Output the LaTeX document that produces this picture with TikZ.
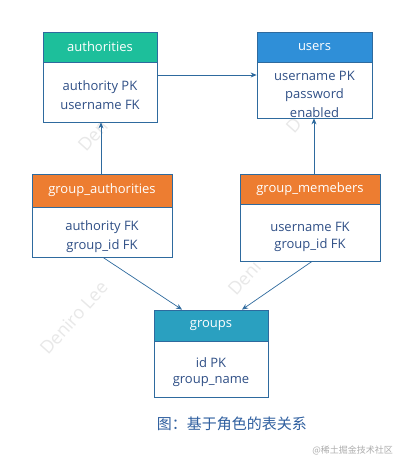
\documentclass[tikz,border=0pt]{standalone}
\usepackage{fontspec}
\setmainfont{Open Sans}
\newfontfamily\cjk{Noto Sans CJK SC}
\usetikzlibrary{arrows.meta}
\definecolor{lineblue}{HTML}{2E6A9E}
\definecolor{txtblue}{HTML}{2F4F86}
\definecolor{hgreen}{HTML}{1DBF9B}
\definecolor{hblue}{HTML}{2F8FD8}
\definecolor{horange}{HTML}{ED7D31}
\definecolor{hteal}{HTML}{2AA0C0}
\definecolor{capblue}{HTML}{2F5F9F}
\tikzset{
  hdr/.style={fill=#1, draw=lineblue, line width=0.8pt, text=white, font=\fontsize{13}{14}\selectfont, inner sep=0pt},
  bdy/.style={fill=white, draw=lineblue, line width=0.8pt, inner sep=0pt},
  fld/.style={text=txtblue, font=\fontsize{13}{14}\selectfont, inner sep=0pt},
  conn/.style={draw=lineblue, line width=0.7pt, -{Stealth[length=6pt,width=5pt]}},
  wm/.style={text=black!9, font=\fontsize{18}{19}\selectfont, rotate=48, inner sep=0pt, anchor=base west}
}
\begin{document}
\begin{tikzpicture}[x=1pt,y=-1pt]
\useasboundingbox (0,0) rectangle (404,467);
\fill[white] (0,0) rectangle (404,467);
% watermarks
\node[wm] (wma) at (48,356) {Deniro Lee};
\node[wm] (wmb) at (236,297) {Deni};
\node[wm] (wmc) at (86,153) {Den};
\node[wm] (wmd) at (294,135) {D};
% authorities
\node[bdy, minimum width=114pt, minimum height=60pt] (authb) at (100,92) {};
\node[hdr=hgreen, minimum width=114pt, minimum height=30pt] (auth) at (100,47) {authorities};
\node[fld] (auth1) at (100,87) {authority PK};
\node[fld] (auth2) at (100,105) {username FK};
% users
\node[bdy, minimum width=115pt, minimum height=56pt] (usersb) at (314.5,90) {};
\node[hdr=hblue, minimum width=115pt, minimum height=30pt] (users) at (314.5,47) {users};
\node[fld] (users1) at (314.5,76) {username PK};
\node[fld] (users2) at (314.5,95) {password};
\node[fld] (users3) at (314.5,113) {enabled};
% group_authorities
\node[bdy, minimum width=140pt, minimum height=50pt] (gab) at (102,232) {};
\node[hdr=horange, minimum width=140pt, minimum height=33pt] (ga) at (102,190.5) {group\_authorities};
\node[fld] (ga1) at (102,227) {authority FK};
\node[fld] (ga2) at (102,246) {group\_id FK};
% group_memebers
\node[bdy, minimum width=140pt, minimum height=57pt] (gmb) at (310,232.5) {};
\node[hdr=horange, minimum width=140pt, minimum height=30pt] (gm) at (310,189) {group\_memebers};
\node[fld] (gm1) at (310,227) {username FK};
\node[fld] (gm2) at (310,245) {group\_id FK};
% groups
\node[bdy, minimum width=114pt, minimum height=56pt] (grpb) at (211,369) {};
\node[hdr=hteal, minimum width=114pt, minimum height=31pt] (grp) at (211,325.5) {groups};
\node[fld] (grp1) at (211,363) {id PK};
\node[fld] (grp2) at (211,382) {group\_name};
% connectors
\draw[conn] (authb.east |- 0,75) -- (usersb.west |- 0,75);
\draw[conn] (ga.north -| 101,0) -- (authb.south -| 101,0);
\draw[conn] (gm.north -| 314,0) -- (usersb.south -| 314,0);
\draw[conn] (gab.south -| 103,0) -- (grp.north -| 182,0);
\draw[conn] (gmb.south -| 312,0) -- (grp.north -| 242,0);
% caption
\node[text=capblue, font=\cjk\fontsize{15}{16}\selectfont, inner sep=0pt] (cap) at (232,424) {图：基于角色的表关系};
\node[text=black!32, font=\cjk\fontsize{9}{10}\selectfont, inner sep=0pt, anchor=east] (wmt) at (393,450) {@稀土掘金技术社区};
\end{tikzpicture}
\end{document}
